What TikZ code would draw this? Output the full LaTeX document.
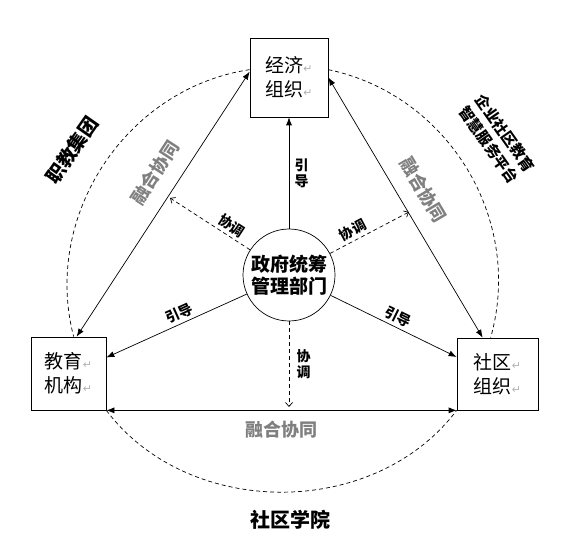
\documentclass[tikz,border=0pt]{standalone}
\usepackage{fontspec}
\setmainfont{Noto Sans CJK SC}
\newfontfamily\symfont{DejaVu Sans}
\usetikzlibrary{arrows.meta}
\newcommand{\parmark}{{\symfont\fontsize{11}{11}\selectfont\color{gray!60}↵}}

\begin{document}
\begin{tikzpicture}[x=1pt,y=1pt,>={Latex[length=8pt,width=6pt]},
    box/.style={draw,line width=0.7pt,align=center,inner sep=0pt,font=\fontsize{19}{24}\selectfont},
    hub/.style={draw,circle,line width=0.7pt,align=center,inner sep=0pt,minimum size=92pt,font=\bfseries\fontsize{19}{22}\selectfont},
    lead/.style={line width=0.7pt,->},
    coord/.style={line width=0.7pt,dash pattern=on 4pt off 3pt,-{Straight Barb[length=4pt,width=7pt]}},
    fuse/.style={line width=0.7pt,<->},
    ring/.style={line width=0.7pt,dash pattern=on 4pt off 3pt},
    lbl/.style={font=\bfseries\fontsize{14}{16}\selectfont,align=center},
    fuselbl/.style={text=gray,font=\bfseries\fontsize{18}{20}\selectfont},
    group/.style={font=\bfseries\fontsize{19}{21}\selectfont,align=center}]
  \useasboundingbox (0,0) rectangle (578,552);
  % boxes and hub
  \node[box,minimum width=78pt,minimum height=79pt] (econ) at (289,474.5) {经济\parmark\\组织\parmark};
  \node[box,minimum width=75pt,minimum height=73pt] (edu) at (68.5,178.5) {教育\parmark\\机构\parmark};
  \node[box,minimum width=81pt,minimum height=72pt] (comm) at (497.5,178) {社区\parmark\\组织\parmark};
  \node[hub] (gov) at (289,277) {政府统筹\\管理部门};
  \coordinate (cul) at (170,354);
  \coordinate (cur) at (409,340);
  \coordinate (cdn) at (289,145);
  % guidance
  \draw[lead] (gov) -- (econ.south) node[lbl,midway,right=2pt] {引\\导};
  \draw[lead] (gov) -- ([yshift=16pt]edu.east) node[lbl,pos=0.45,above,sloped] {引导};
  \draw[lead] (gov) -- ([yshift=17pt]comm.west) node[lbl,pos=0.5,above,sloped] {引导};
  % coordination
  \draw[coord] (gov) -- (cul) node[lbl,pos=0.3,above,sloped] {协调};
  \draw[coord] (gov) -- (cur) node[lbl,pos=0.35,above,sloped] {协调};
  \draw[coord] (gov) -- (cdn) node[lbl,pos=0.5,right=4pt] {协\\调};
  % integration
  \draw[fuse] ([yshift=-34pt]econ.north west) -- ([xshift=46pt]edu.north west)
    node[fuselbl,pos=0.43,above=12pt,sloped] {融合协同};
  \draw[fuse] (econ.east) -- ([xshift=26pt]comm.north west)
    node[fuselbl,pos=0.48,above=12pt,sloped] {融合协同};
  \draw[fuse] (edu.south east) -- (comm.south west)
    node[fuselbl,midway,below=7pt] {融合协同};
  % outer ring
  \draw[ring] ([yshift=-32pt]econ.north west) to[bend right=48] ([xshift=43pt]edu.north west);
  \draw[ring] ([yshift=-32pt]econ.north east) to[bend left=47] ([xshift=34pt]comm.north west);
  \draw[ring] (edu.south east) to[bend right=53] (comm.south west);
  \node[group,rotate=55] (voc) at (72,402) {职教集团};
  \node[group,rotate=-55,font=\bfseries\fontsize{15}{20}\selectfont] (plat) at (497,413) {企业社区教育\\智慧服务平台};
  \node[group,font=\bfseries\fontsize{20}{22}\selectfont] (coll) at (290,32) {社区学院};
\end{tikzpicture}
\end{document}
